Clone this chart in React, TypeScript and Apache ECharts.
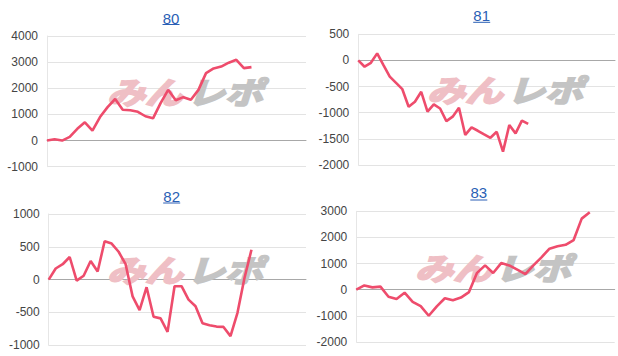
import React, { useEffect, useRef } from "react";
import * as echarts from "echarts";

const titles = ["80", "81", "82", "83"];
const values80 = [0, 50, 0, 140, 450, 700, 380, 900, 1280, 1590, 1180, 1160, 1100, 930, 850, 1430, 1940, 1540, 1660, 1560, 1940, 2580, 2760, 2830, 2980, 3090, 2770, 2810];
const values81 = [0, -120, -45, 135, -90, -310, -430, -550, -885, -790, -600, -980, -840, -920, -1160, -1075, -905, -1425, -1280, -1345, -1415, -1480, -1365, -1745, -1235, -1395, -1150, -1215];
const values82 = [0, 170, 235, 345, -15, 60, 285, 125, 585, 550, 425, 235, -255, -465, -115, -565, -590, -795, -100, -100, -305, -405, -665, -695, -715, -720, -860, -505, 25, 455];
const values83 = [0, 165, 90, 120, -270, -355, -115, -465, -630, -995, -635, -325, -405, -300, -90, 645, 930, 640, 1020, 930, 765, 600, 930, 1240, 1570, 1660, 1720, 1900, 2720, 2960];
const allValues = [values80, values81, values82, values83];
const yMin = [-1000, -2000, -1000, -2000];
const yMax = [4000, 500, 1000, 3000];
const yStep = [1000, 500, 500, 1000];
const xMax = [34.2, 40.8, 36.8, 32.1];

// layout (pixels)
const grids = [
  { left: 47, top: 36, right: 618 - 306, bottom: 356 - 166.7 },
  { left: 358.3, top: 34.3, right: 618 - 615, bottom: 356 - 165 },
  { left: 48.7, top: 214, right: 618 - 306, bottom: 356 - 345.3 },
  { left: 356.3, top: 211.3, right: 618 - 614.7, bottom: 356 - 342 },
];
const titlePos = [
  { x: 171, y: 18.3, u: 24.5 },
  { x: 481.7, y: 15.5, u: 22.3 },
  { x: 171.7, y: 196, u: 203 },
  { x: 478.8, y: 192.7, u: 200 },
];
const markPos = [
  { x: 107, y: 76 },
  { x: 427, y: 74 },
  { x: 107, y: 254 },
  { x: 415, y: 252 },
];

const LINE = "#ee4c6c";
const TITLE = "#2a5fb5";

export default function App() {
  const ref = useRef<HTMLDivElement>(null);
  useEffect(() => {
    document.body.style.margin = "0";
    if (!ref.current) return;
    const chart = echarts.init(ref.current, null, { renderer: "svg" });
    const graphics: any[] = [];
    titles.forEach((t, i) => {
      const p = titlePos[i];
      const m = markPos[i];
      const markStyle = {
        fontSize: 38,
        fontWeight: "bold",
        fontStyle: "italic",
        fontFamily: "Noto Sans CJK JP",
        lineWidth: 2.5,
      };
      graphics.push({
        type: "text",
        x: m.x,
        y: m.y,
        z: 1,
        scaleY: 0.8,
        style: { ...markStyle, text: "みん", fill: "#efbfc5", stroke: "#efbfc5" },
      });
      graphics.push({
        type: "text",
        x: m.x + 80,
        y: m.y,
        z: 1,
        scaleY: 0.8,
        style: { ...markStyle, text: "レポ", fill: "#c4c4c4", stroke: "#c4c4c4" },
      });
      graphics.push({
        type: "text",
        x: p.x,
        y: p.y,
        z: 5,
        style: {
          text: t,
          fontSize: 15,
          fontFamily: "Liberation Sans, Arial, sans-serif",
          fill: TITLE,
          textAlign: "center",
          textVerticalAlign: "middle",
        },
      });
      graphics.push({
        type: "line",
        z: 5,
        shape: { x1: p.x - 8.5, y1: p.u, x2: p.x + 8.5, y2: p.u },
        style: { stroke: TITLE, lineWidth: 1 },
      });
    });

    chart.setOption({
      animation: false,
      backgroundColor: "#ffffff",
      grid: grids.map((g) => ({ ...g, containLabel: false })),
      xAxis: grids.map((_, i) => ({
        type: "value",
        gridIndex: i,
        min: 0,
        max: xMax[i],
        axisLine: { show: true, onZero: true, lineStyle: { color: "#a8a8a8", width: 1 } },
        axisTick: { show: false },
        axisLabel: { show: false },
        splitLine: { show: false },
      })),
      yAxis: grids.map((_, i) => ({
        type: "value",
        gridIndex: i,
        min: yMin[i],
        max: yMax[i],
        interval: yStep[i],
        axisLine: { show: true, onZero: false, lineStyle: { color: "#e6e6e6", width: 1 } },
        axisTick: { show: false },
        axisLabel: {
          color: "#444444",
          fontSize: 12,
          fontFamily: "Liberation Sans, Arial, sans-serif",
          margin: 9,
          formatter: (v: number) => String(v),
        },
        splitLine: { show: true, lineStyle: { color: "#e3e3e3", width: 1 } },
      })),
      series: allValues.map((vals, i) => ({
        type: "line",
        xAxisIndex: i,
        yAxisIndex: i,
        data: vals.map((v, k) => [k, v]),
        showSymbol: false,
        symbol: "none",
        z: 3,
        lineStyle: { color: LINE, width: 2.6 },
      })),
      graphic: graphics,
    });
    return () => chart.dispose();
  }, []);
  return <div ref={ref} style={{ width: 618, height: 356 }} />;
}
